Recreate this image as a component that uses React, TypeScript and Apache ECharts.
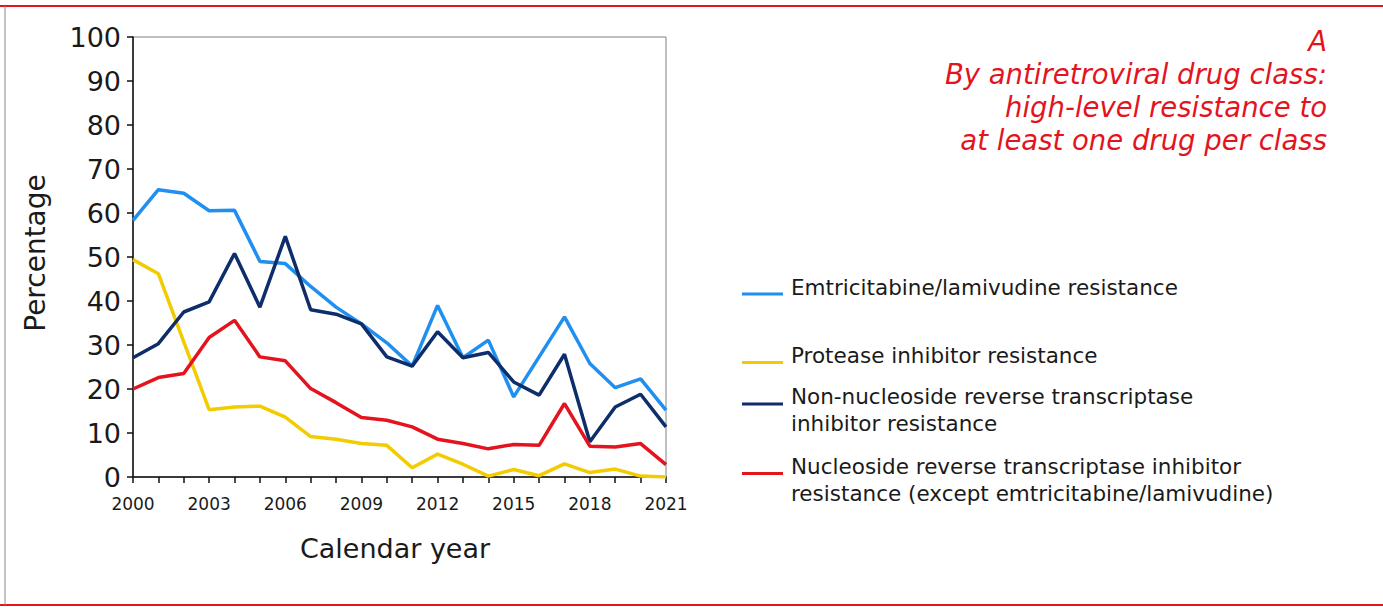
import React, { useEffect, useRef } from "react";
import * as echarts from "echarts";

const years = [
  "2000","2001","2002","2003","2004","2005","2006","2007","2008","2009","2010",
  "2011","2012","2013","2014","2015","2016","2017","2018","2019","2020","2021",
];
const emtricitabine = [58.3,65.3,64.5,60.5,60.6,49.0,48.5,43.3,38.6,34.8,30.5,25.2,39.0,27.1,31.1,18.2,27.3,36.4,25.8,20.3,22.3,15.2];
const protease = [49.4,46.2,30.7,15.3,15.9,16.1,13.6,9.2,8.6,7.6,7.2,2.1,5.2,2.9,0.2,1.7,0.3,3.0,1.0,1.8,0.2,0];
const nnrti = [27.1,30.3,37.5,39.8,50.8,38.6,54.7,38.0,37.0,34.8,27.3,25.2,33.0,27.1,28.3,21.6,18.6,27.9,8.0,15.9,18.8,11.4];
const nrti = [20.0,22.6,23.5,31.7,35.6,27.3,26.4,20.1,16.9,13.5,12.9,11.4,8.6,7.6,6.4,7.4,7.2,16.7,7.0,6.8,7.6,2.8];

const seriesNames = [
  "Emtricitabine/lamivudine resistance",
  "Protease inhibitor resistance",
  "Non-nucleoside reverse transcriptase\ninhibitor resistance",
  "Nucleoside reverse transcriptase inhibitor\nresistance (except emtricitabine/lamivudine)",
];
const colors = ["#1f8ff0", "#f2cc00", "#0e2d6b", "#e3141d"];
const titleLines = "A\nBy antiretroviral drug class:\nhigh-level resistance to\nat least one drug per class";

const FONT = "DejaVu Sans, Verdana, sans-serif";

export default function App() {
  const ref = useRef<HTMLDivElement>(null);
  useEffect(() => {
    const chart = echarts.init(ref.current!, null, { renderer: "svg" });
    const dataSets = [emtricitabine, protease, nnrti, nrti];
    const legendY = [273.5, 341.5, 383, 453];
    const iconY = [294, 362.5, 404, 473.5];
    const legendGraphics: any[] = [];
    seriesNames.forEach((n, i) => {
      legendGraphics.push({
        type: "line",
        shape: { x1: 742, y1: iconY[i], x2: 783, y2: iconY[i] },
        style: { stroke: colors[i], lineWidth: 3 },
      });
      legendGraphics.push({
        type: "text",
        x: 791,
        y: legendY[i],
        style: {
          text: n,
          font: `21.5px ${FONT}`,
          fill: "#1a1a1a",
          textAlign: "left",
          textVerticalAlign: "top",
          lineHeight: 27,
        },
      });
    });
    chart.setOption({
      animation: false,
      backgroundColor: "#ffffff",
      grid: {
        left: 133,
        top: 37,
        right: 717,
        bottom: 131,
        show: true,
        borderColor: "#808080",
        borderWidth: 1,
        backgroundColor: "transparent",
      },
      xAxis: {
        type: "category",
        data: years,
        boundaryGap: false,
        axisLine: { lineStyle: { color: "#111", width: 1.5 } },
        axisTick: { show: true, interval: 0, length: 6, inside: false, lineStyle: { color: "#111", width: 1.5 } },
        axisLabel: { interval: 2, fontSize: 17, fontFamily: FONT, color: "#1a1a1a", margin: 18 },
        splitLine: { show: false },
      },
      yAxis: {
        type: "value",
        min: 0,
        max: 100,
        interval: 10,
        axisLine: { show: true, lineStyle: { color: "#111", width: 1.5 } },
        axisTick: { show: true, length: 6, lineStyle: { color: "#111", width: 1.5 } },
        axisLabel: { fontSize: 27, fontFamily: FONT, color: "#1a1a1a", margin: 12 },
        splitLine: { show: false },
      },
      series: dataSets.map((d, i) => ({
        name: seriesNames[i],
        type: "line",
        data: d,
        symbol: "none",
        lineStyle: { color: colors[i], width: 3.5 },
        itemStyle: { color: colors[i] },
        z: 2 + i,
      })),
      graphic: [
        { type: "line", shape: { x1: 0, y1: 6, x2: 1383, y2: 6 }, style: { stroke: "#e3141d", lineWidth: 2 } },
        { type: "line", shape: { x1: 0, y1: 605, x2: 1383, y2: 605 }, style: { stroke: "#e3141d", lineWidth: 2 } },
        { type: "line", shape: { x1: 5, y1: 6, x2: 5, y2: 605 }, style: { stroke: "#8a8a8a", lineWidth: 1 } },
        {
          type: "text",
          x: 1327,
          y: 24,
          style: {
            text: titleLines,
            font: `italic 27.5px ${FONT}`,
            fill: "#e3141d",
            textAlign: "right",
            textVerticalAlign: "top",
            lineHeight: 33,
          },
        },
        {
          type: "text",
          x: 35,
          y: 253,
          rotation: Math.PI / 2,
          style: {
            text: "Percentage",
            font: `28px ${FONT}`,
            fill: "#1a1a1a",
            textAlign: "center",
            textVerticalAlign: "middle",
          },
        },
        {
          type: "text",
          x: 395,
          y: 548,
          style: {
            text: "Calendar year",
            font: `27px ${FONT}`,
            fill: "#1a1a1a",
            textAlign: "center",
            textVerticalAlign: "middle",
          },
        },
        ...legendGraphics,
      ],
    });
    return () => chart.dispose();
  }, []);
  return (
    <div
      ref={ref}
      style={{ position: "fixed", left: 0, top: 0, width: 1383, height: 608 }}
    />
  );
}
